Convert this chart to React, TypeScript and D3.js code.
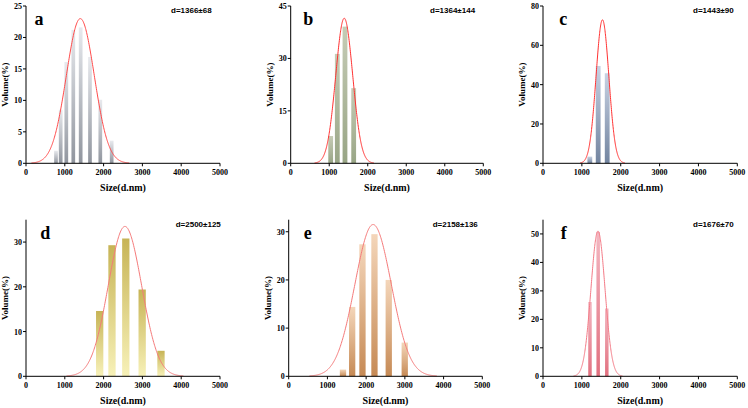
import React from 'react';
import * as d3 from 'd3';

// particle size bins (nm) and volume percentages for each sample
const sizeA = [773, 894, 1039, 1219, 1409, 1649, 1915, 2208];
const volumeA = [2.0, 8.5, 16.1, 21.2, 21.6, 16.9, 10.1, 3.6];
const sizeB = [1038, 1210, 1409, 1635];
const volumeB = [7.8, 31.3, 39.1, 21.5];
const sizeC = [1205, 1420, 1652];
const volumeC = [3.4, 49.5, 45.8];
const sizeD = [1899, 2216, 2572, 2994, 3479];
const volumeD = [14.6, 29.3, 30.8, 19.4, 5.7];
const sizeE = [1402, 1639, 1905, 2215, 2584, 2997];
const volumeE = [1.4, 14.4, 27.4, 29.5, 20.0, 7.0];
const sizeF = [1209, 1420, 1642];
const volumeF = [26.1, 50.7, 23.8];

// gaussian fit parameters: centre, width, height
const fitMean = [1400, 1390, 1530, 2550, 2180, 1415];
const fitSigma = [360, 220, 165, 430, 470, 180];
const fitPeak = [23, 41.5, 73, 33.5, 31.5, 51];

const letters = ['a', 'b', 'c', 'd', 'e', 'f'];
const diameters = ['d=1366±68', 'd=1364±144', 'd=1443±90', 'd=2500±125', 'd=2158±136', 'd=1676±70'];
const yMax = [25, 45, 80, 35, 32.5, 55];
const yTicks = [
  [0, 5, 10, 15, 20, 25],
  [0, 15, 30, 45],
  [0, 20, 40, 60, 80],
  [0, 10, 20, 30],
  [0, 10, 20, 30],
  [0, 10, 20, 30, 40, 50],
];
const xTicks = [0, 1000, 2000, 3000, 4000, 5000];

const sizes = [sizeA, sizeB, sizeC, sizeD, sizeE, sizeF];
const volumes = [volumeA, volumeB, volumeC, volumeD, volumeE, volumeF];

// plot boxes and styling per panel
const layout = [
  { x0: 26, x1: 220, y0: 163.3, y1: 6, bw: 3.7, lx: 39, dx: 171, top: '#e8eaee', bot: '#90959e', curve: '#ff4a4a' },
  { x0: 290.7, x1: 483.3, y0: 163.3, y1: 6, bw: 4.8, lx: 308.3, dx: 430, top: '#c6ccb6', bot: '#98a585', curve: '#ff3030' },
  { x0: 543, x1: 737.3, y0: 163.3, y1: 6, bw: 4.8, lx: 563.3, dx: 693, top: '#c8d2e3', bot: '#72849f', curve: '#ff3030' },
  { x0: 26, x1: 220, y0: 376.3, y1: 219.7, bw: 7.3, lx: 45.3, dx: 175.7, top: '#c7b456', bot: '#f7f1b8', curve: '#f57a7a' },
  { x0: 288.7, x1: 482.3, y0: 376.3, y1: 219.7, bw: 6.3, lx: 307.8, dx: 432.7, top: '#f4d6ba', bot: '#c68a55', curve: '#f57a7a' },
  { x0: 543, x1: 737.3, y0: 376.3, y1: 219.7, bw: 3.5, lx: 563.7, dx: 693, top: '#f3b8c2', bot: '#e2707f', curve: '#f47a86' },
];

const serif = '"Liberation Serif", "Times New Roman", serif';
const sans = '"Liberation Sans", Arial, sans-serif';

function Panel({ i }: { i: number }) {
  const L = layout[i];
  const x = d3.scaleLinear().domain([0, 5000]).range([L.x0, L.x1]);
  const y = d3.scaleLinear().domain([0, yMax[i]]).range([L.y0, L.y1]);
  const m = fitMean[i], s = fitSigma[i], a = fitPeak[i];
  const xs = d3.range(m - 3.5 * s, m + 3.5 * s, s / 40).concat([m + 3.5 * s]);
  const line = d3.line<number>()
    .x(v => x(v))
    .y(v => y(a * Math.exp(-((v - m) ** 2) / (2 * s * s))))
    .curve(d3.curveBasis);
  const gid = `grad${i}`;
  const midY = (L.y0 + L.y1) / 2;
  return (
    <g>
      <defs>
        <linearGradient id={gid} x1="0" y1="0" x2="0" y2="1">
          <stop offset="0%" stopColor={L.top} />
          <stop offset="100%" stopColor={L.bot} />
        </linearGradient>
      </defs>
      {sizes[i].map((sz, k) => (
        <rect key={k} x={x(sz) - L.bw / 2} y={y(volumes[i][k])} width={L.bw}
          height={L.y0 - y(volumes[i][k])} fill={`url(#${gid})`} />
      ))}
      <path d={line(xs) || ''} fill="none" stroke={L.curve} strokeWidth={1} />
      {/* axes */}
      <line x1={L.x0} x2={L.x1} y1={L.y0} y2={L.y0} stroke="#000" strokeWidth={1} />
      <line x1={L.x0} x2={L.x0} y1={L.y0} y2={L.y1} stroke="#000" strokeWidth={1} />
      {xTicks.map(t => (
        <g key={t}>
          <line x1={x(t)} x2={x(t)} y1={L.y0} y2={L.y0 + 3} stroke="#000" />
          <text x={x(t)} y={L.y0 + 12} textAnchor="middle" fontFamily={serif}
            fontWeight="bold" fontSize={8}>{t}</text>
        </g>
      ))}
      {yTicks[i].map(t => (
        <g key={t}>
          <line x1={L.x0 - 3} x2={L.x0} y1={y(t)} y2={y(t)} stroke="#000" />
          <text x={L.x0 - 4} y={y(t) + 3} textAnchor="end" fontFamily={serif}
            fontWeight="bold" fontSize={8}>{t}</text>
        </g>
      ))}
      <text x={(L.x0 + L.x1) / 2} y={L.y0 + 28} textAnchor="middle" fontFamily={serif}
        fontWeight="bold" fontSize={10}>Size(d.nm)</text>
      <text transform={`translate(${L.x0 - 18},${midY}) rotate(-90)`} textAnchor="middle"
        fontFamily={serif} fontWeight="bold" fontSize={9}>Volume(%)</text>
      <text x={L.lx} y={L.y1 + 19} textAnchor="middle" fontFamily={serif}
        fontWeight="bold" fontSize={18}>{letters[i]}</text>
      <text x={L.dx} y={L.y1 + 7} fontFamily={sans} fontWeight="bold" fontSize={8}>{diameters[i]}</text>
    </g>
  );
}

export default function App() {
  return (
    <svg width={748} height={408} style={{ position: 'absolute', left: 0, top: 0, background: '#fff' }}>
      {layout.map((_, i) => <Panel key={i} i={i} />)}
    </svg>
  );
}
